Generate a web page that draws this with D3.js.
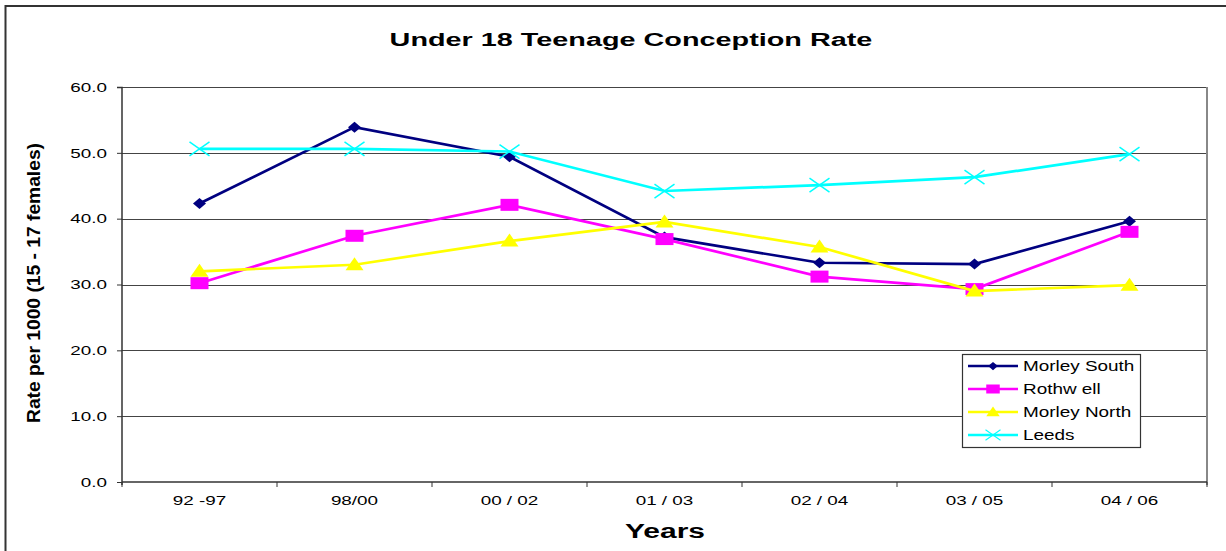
<!DOCTYPE html>
<html>
<head>
<meta charset="utf-8">
<script src="https://cdn.jsdelivr.net/npm/d3@7"></script>
<style>
  body { margin: 0; background: #fff; }
  svg { font-family: Arial, "Liberation Sans", sans-serif; display: block; }
</style>
</head>
<body>
<svg width="1226" height="551"></svg>
<script>
// ---- Dados
const periods = ["92 -97", "98/00", "00 / 02", "01 / 03", "02 / 04", "03 / 05", "04 / 06"];
const morleySouth = [42.3, 53.9, 49.4, 37.2, 33.3, 33.1, 39.6];
const rothwell = [30.2, 37.4, 42.1, 36.9, 31.2, 29.3, 38.0];
const morleyNorth = [32.0, 33.0, 36.6, 39.5, 35.7, 29.0, 29.9];
const leeds = [50.6, 50.6, 50.2, 44.2, 45.1, 46.3, 49.8];
const yTicks = [0, 10, 20, 30, 40, 50, 60];

const series = [
  { name: "Morley South", values: morleySouth, color: "#000080", shape: "diamond" },
  { name: "Rothw ell", values: rothwell, color: "#ff00ff", shape: "square" },
  { name: "Morley North", values: morleyNorth, color: "#ffff00", shape: "triangle" },
  { name: "Leeds", values: leeds, color: "#00ffff", shape: "cross" }
];

const svg = d3.select('svg');
const margin = { left: 122, right: 19, top: 87, bottom: 69 };
const W = 1226, H = 551;
const innerW = W - margin.left - margin.right;
const innerH = H - margin.top - margin.bottom;

// o gráfico original é esticado na horizontal: alarga cada texto por um fator
function stretch(sel, k) {
  sel.each(function () {
    const len = this.getComputedTextLength();
    d3.select(this).attr('textLength', len * k).attr('lengthAdjust', 'spacingAndGlyphs');
  });
}

// moldura externa (sai da imagem à direita e embaixo)
svg.append('rect').attr('x', 5.5).attr('y', 6).attr('width', 1240).attr('height', 560)
  .attr('fill', 'none').attr('stroke', '#333').attr('stroke-width', 2);

svg.append('text').attr('x', 631).attr('y', 46).attr('text-anchor', 'middle')
  .attr('font-weight', 'bold').attr('font-size', 18).text('Under 18 Teenage Conception Rate')
  .call(stretch, 1.6);

const g = svg.append('g').attr('transform', `translate(${margin.left},${margin.top})`);

// ---- Escalas
const x = d3.scaleBand().domain(periods).range([0, innerW]);
const y = d3.scaleLinear().domain([0, 60]).range([innerH, 0]);

// grade
g.selectAll('.grid').data(yTicks.filter(d => d > 0)).join('line')
  .attr('x1', 0).attr('x2', innerW)
  .attr('y1', d => Math.round(y(d)) + 0.5).attr('y2', d => Math.round(y(d)) + 0.5)
  .attr('stroke', '#444').attr('stroke-width', 1.2);

// borda direita da área de plotagem
g.append('line').attr('x1', innerW).attr('x2', innerW)
  .attr('y1', y(60)).attr('y2', innerH + 3).attr('stroke', '#888').attr('stroke-width', 2);

// ---- Eixos
const yAxis = d3.axisLeft(y).tickValues(yTicks).tickFormat(d3.format('.1f')).tickSize(5).tickPadding(10);
g.append('g').call(yAxis)
  .call(a => a.select('.domain').attr('stroke', '#333').attr('stroke-width', 1.5).attr('d', `M-5,0.5H0V${innerH + 3}`))
  .call(a => a.selectAll('.tick line').attr('stroke', '#333'))
  .call(a => a.selectAll('text').attr('font-size', 13).attr('fill', '#000').call(stretch, 1.45));

const xAxisG = g.append('g').attr('transform', `translate(0,${innerH})`);
xAxisG.append('line').attr('x1', 0).attr('x2', innerW).attr('y1', 0).attr('y2', 0)
  .attr('stroke', '#333').attr('stroke-width', 1.5);
const bounds = d3.range(periods.length + 1).map(i => i * x.step());
xAxisG.selectAll('.tk').data(bounds).join('line')
  .attr('x1', d => d).attr('x2', d => d).attr('y1', 0).attr('y2', 5).attr('stroke', '#333');
xAxisG.selectAll('.lbl').data(periods).join('text')
  .attr('x', d => x(d) + x.bandwidth() / 2).attr('y', 23)
  .attr('text-anchor', 'middle').attr('font-size', 13).text(d => d)
  .call(stretch, 1.45);

svg.append('text').attr('x', 665).attr('y', 538).attr('text-anchor', 'middle')
  .attr('font-weight', 'bold').attr('font-size', 20).text('Years')
  .call(stretch, 1.5);

svg.append('text').attr('transform', 'translate(40,283) rotate(-90)')
  .attr('text-anchor', 'middle').attr('font-weight', 'bold').attr('font-size', 18)
  .attr('textLength', 280).attr('lengthAdjust', 'spacingAndGlyphs')
  .text('Rate per 1000 (15 - 17 females)');

// ---- Marcadores
function marker(sel, shape, color) {
  if (shape === 'diamond') {
    sel.append('path').attr('d', 'M0,-5.5L6.5,0L0,5.5L-6.5,0Z').attr('fill', color);
  } else if (shape === 'square') {
    sel.append('rect').attr('x', -9).attr('y', -6).attr('width', 18).attr('height', 12).attr('fill', color);
  } else if (shape === 'triangle') {
    sel.append('path').attr('d', 'M0,-7.5L9,5.5L-9,5.5Z').attr('fill', color);
  } else {
    sel.append('path').attr('d', 'M-10,-7L10,7M-10,7L10,-7').attr('stroke', color).attr('stroke-width', 1.5).attr('fill', 'none');
  }
}

const line = d3.line().x((d, i) => x(periods[i]) + x.bandwidth() / 2).y(d => y(d));

series.forEach(s => {
  g.append('path').datum(s.values).attr('d', line)
    .attr('fill', 'none').attr('stroke', s.color).attr('stroke-width', 2.7);
  s.values.forEach((v, i) => {
    const m = g.append('g').attr('transform', `translate(${x(periods[i]) + x.bandwidth() / 2},${y(v)})`);
    marker(m, s.shape, s.color);
  });
});

// ---- Legenda
const leg = svg.append('g').attr('transform', 'translate(962,354)');
leg.append('rect').attr('x', 0.5).attr('y', 0.5).attr('width', 178).attr('height', 93)
  .attr('fill', '#fff').attr('stroke', '#333').attr('stroke-width', 1.2);
series.forEach((s, i) => {
  const row = leg.append('g').attr('transform', `translate(0,${12 + i * 23})`);
  row.append('line').attr('x1', 6).attr('x2', 56).attr('y1', 0).attr('y2', 0)
    .attr('stroke', s.color).attr('stroke-width', 2.5);
  const m = row.append('g').attr('transform', 'translate(31,0) scale(0.75)');
  marker(m, s.shape, s.color);
  row.append('text').attr('x', 61).attr('y', 5).attr('font-size', 14).text(s.name)
    .call(stretch, 1.35);
});
</script>
</body>
</html>
